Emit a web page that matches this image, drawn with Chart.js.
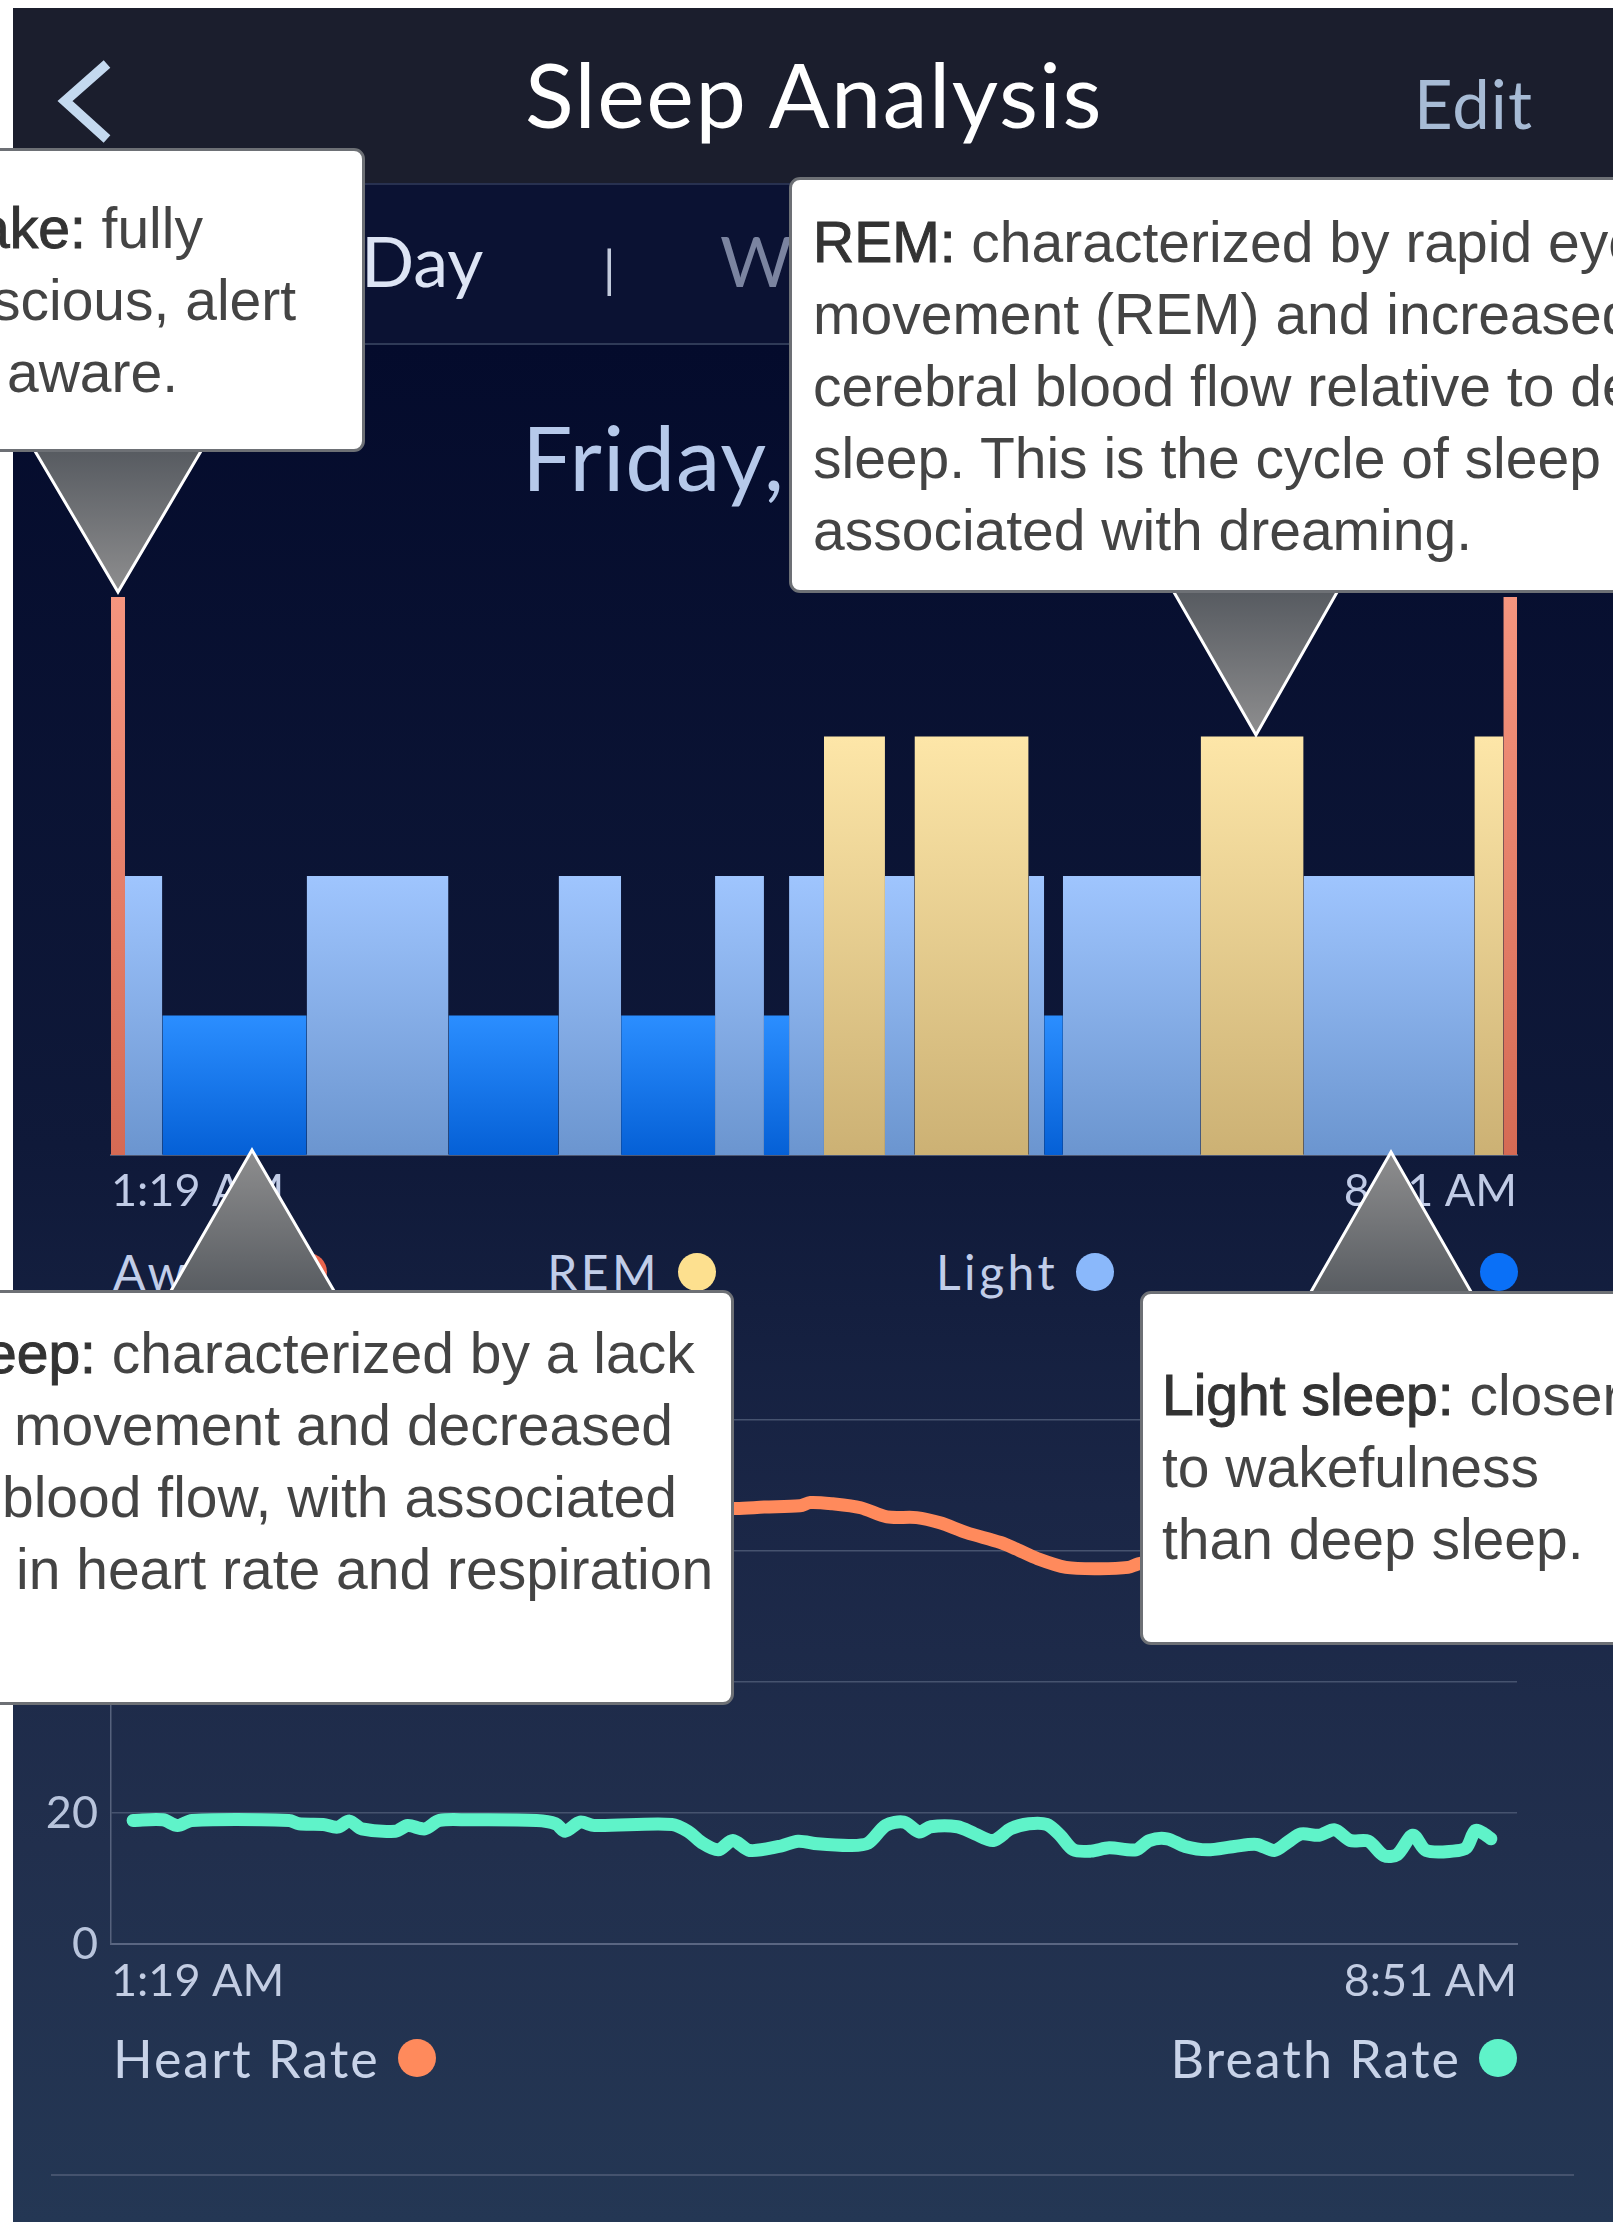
<!DOCTYPE html>
<html>
<head>
<meta charset="utf-8">
<title>Sleep Analysis</title>
<script src="https://cdn.jsdelivr.net/npm/chart.js@4.4.1/dist/chart.umd.min.js"></script>
<style>
html,body{margin:0;padding:0}
body{position:relative;width:1613px;height:2222px;overflow:hidden;background:#ffffff;}
.abs{position:absolute}
.t{position:absolute;white-space:nowrap}
.t b{font-weight:normal;color:#333333;-webkit-text-stroke:1px #333333}
#hdr{left:13px;top:8px;width:1600px;height:175px;background:#1b1e2d}
#seg{left:13px;top:183px;width:1600px;height:160px;background:#0b1233;border-top:2px solid #283150;box-sizing:border-box}
#main{left:13px;top:343px;width:1600px;height:1879px;background:linear-gradient(to bottom,#040b2c 0px,#0f1939 800px,#1a2646 1160px,#212f4d 1500px,#243754 1879px);border-top:2px solid #2f3a57;box-sizing:border-box}
canvas{position:absolute;left:0;z-index:3}
#c1{top:560px}
#c2{top:1380px}
.box{position:absolute;background:#fff;border:3px solid #6d7075;border-radius:11px;box-sizing:border-box;z-index:9}
.legend{position:absolute;display:flex;justify-content:space-between;font-family:Lato;z-index:5;white-space:nowrap}
.li{display:flex;align-items:center;gap:18px}
.dot{display:inline-block;width:38px;height:38px;border-radius:50%}
</style>
</head>
<body>
<div id="hdr" class="abs"></div>
<div id="seg" class="abs"></div>
<div id="main" class="abs"></div>
<svg class="abs" style="left:0;top:0;z-index:5" width="200" height="200"><polyline points="107,64 65,101 107,139" fill="none" stroke="#c4d9ef" stroke-width="10"/></svg>
<canvas id="c1" width="1613" height="667"></canvas>
<canvas id="c2" width="1613" height="638"></canvas>
<svg id="tris" class="abs" style="left:0;top:0;z-index:8" width="1613" height="2222">
  <defs>
    <linearGradient id="gDown" x1="0" y1="0" x2="0" y2="1"><stop offset="0" stop-color="#55595f"/><stop offset="1" stop-color="#8e8e8f"/></linearGradient>
    <linearGradient id="gUp" x1="0" y1="0" x2="0" y2="1"><stop offset="0" stop-color="#8e8e8f"/><stop offset="1" stop-color="#575b60"/></linearGradient>
  </defs>
</svg>
<script>
// ---------- DATA ----------
const stageNames = ['Awake', 'REM', 'Light', 'Deep'];
const stageLevel = { Deep: 1, Light: 2, REM: 3, Awake: 4 };
// sleep stage segments, minutes after 1:19 AM
const segStage = ['Awake','Light','Deep','Light','Deep','Light','Deep','Light','Deep','Light','REM','Light','REM','Light','Deep','Light','REM','Light','REM','Awake'];
const segStart = [0, 4.5, 16.5, 62.9, 108.5, 143.9, 164, 194.2, 209.9, 218, 229.2, 248.8, 258.3, 295, 300, 306, 350.3, 383.4, 438.3, 447.6];
const segEnd   = [4.5, 16.5, 62.9, 108.5, 143.9, 164, 194.2, 209.9, 218, 229.2, 248.8, 258.3, 295, 300, 306, 350.3, 383.4, 438.3, 447.6, 452];
const totalMinutes = 452;
const xTickValues = [0, 452];
const xTickLabels = ['1:19 AM', '8:51 AM'];

// heart rate (bpm) – minutes after 1:19 AM
const hrMin = [7, 20, 35, 50, 65, 80, 95, 110, 125, 140, 155, 170, 185, 201, 210, 221.5, 224.8, 232, 241, 249.5, 259, 266.5, 275, 286, 291, 298, 307, 318, 327, 330, 340, 355, 370, 385, 400, 415, 430, 443];
const hrVal = [64, 63, 62, 61, 60.5, 61, 62, 63, 64, 65, 65.5, 66, 66.5, 66.5, 66.7, 66.9, 67.4, 67.2, 66.6, 65.2, 65.1, 64.3, 62.8, 61.3, 60.3, 58.8, 57.5, 57.3, 57.5, 58, 59, 59.5, 60, 59, 58.5, 59, 60, 60.5];

// breath rate (breaths/min)
const brMin = [7.1, 16.7, 21.4, 26, 57.2, 60.4, 68.2, 72.8, 76.7, 80.6, 91.5, 95.4, 100.9, 105.6, 114.9, 136.8, 143, 146, 150.8, 155.4, 180.4, 185.9, 189.7, 195.2, 199.9, 205.3, 214.7, 220.9, 227.1, 237.6, 243.4, 249.1, 254.9, 259.9, 263.5, 272.1, 277.8, 283.6, 289.3, 295.1, 300.8, 305.1, 309.4, 315.1, 320.9, 329.5, 333.8, 339.5, 345.3, 352.5, 361.1, 368.3, 374, 378.3, 382.6, 388.4, 393.4, 398.4, 404.2, 409.2, 413.5, 418.5, 422.8, 431.4, 435.7, 438.6, 441.5, 443.6];
const brVal = [18.86, 18.96, 18.09, 18.86, 18.86, 18.35, 18.25, 17.84, 18.76, 17.58, 17.23, 18.09, 17.58, 18.86, 18.96, 18.86, 18.35, 17.23, 18.6, 18.09, 18.25, 17.07, 15.55, 14.38, 15.8, 14.28, 14.89, 15.7, 15.3, 15.04, 15.4, 18.1, 18.6, 17.1, 17.9, 17.9, 16.8, 15.8, 17.6, 18.35, 18.25, 16.6, 14.38, 14.18, 14.69, 14.38, 15.8, 16.06, 14.89, 14.38, 14.89, 15.2, 14.28, 15.55, 16.8, 16.6, 17.43, 15.8, 15.7, 13.5, 13.65, 16.6, 14.28, 14.18, 14.69, 17.33, 16.8, 16.06];
const yTickStep = 20;
const yMax = 80;
const vitalsLegend = ['Heart Rate', 'Breath Rate'];

// ---------- STYLES ----------
const stageGrad = { Awake: ['#f5957f', '#d56a54'], REM: ['#fde6a8', '#ccb174'], Light: ['#9fc5fe', '#6b95cf'], Deep: ['#2b8eff', '#0560d6'] };
const stageDot = { Awake: '#e9654d', REM: '#fde08f', Light: '#8ab8fb', Deep: '#0a70f7' };
const vitalColor = { 'Heart Rate': '#ff8a5c', 'Breath Rate': '#5ff3c9' };

// ---------- TEXT HELPER ----------
function txt(s, x, base, size, color, o = {}) {
  const fam = o.fam || 'Lato';
  const asc = fam === 'Lato' ? 0.887 : 0.8465;
  const d = document.createElement('div');
  d.className = 't';
  d.style.fontFamily = fam === 'Lato' ? 'Lato' : '"Liberation Sans"';
  d.style.fontSize = size + 'px';
  d.style.lineHeight = size + 'px';
  d.style.top = (base - asc * size) + 'px';
  if (o.align === 'center') { d.style.left = (x - 1500) + 'px'; d.style.width = '3000px'; d.style.textAlign = 'center'; }
  else if (o.align === 'right') { d.style.right = (1613 - x) + 'px'; }
  else d.style.left = x + 'px';
  d.style.color = color;
  if (o.weight) d.style.fontWeight = o.weight;
  if (o.ls) d.style.letterSpacing = o.ls + 'px';
  d.style.zIndex = o.z || 5;
  d.innerHTML = s;
  document.body.appendChild(d);
  return d;
}

// header texts
txt('Sleep Analysis', 814, 128, 90, '#ffffff', { align: 'center', ls: 1.5 });
txt('Edit', 1414, 129, 67, '#a7bbd5', { ls: 1 });
txt('Day', 361, 287, 70, '#dde4f4');
txt('|', 603, 287, 50, '#c2cadb');
txt('Week', 720, 287, 70, '#7b84a0');
txt('Friday,', 522, 491, 89, '#b6c9ea', { ls: 1 });

// ---------- SLEEP CHART ----------
function stageFill(chart, st) {
  const a = chart.chartArea;
  const c = stageGrad[st];
  if (!a) return c[0];
  const yTop = chart.scales.y.getPixelForValue(stageLevel[st]);
  const g = chart.ctx.createLinearGradient(0, yTop, 0, a.bottom);
  g.addColorStop(0, c[0]);
  g.addColorStop(1, c[1]);
  return g;
}
const axisFont = { family: 'Lato', size: 45 };
const sleepDatasets = segStage.map((st, i) => ({
  label: st,
  data: [{ x: segStart[i], y: stageLevel[st] }, { x: segEnd[i], y: stageLevel[st] }],
  borderWidth: 0,
  borderColor: 'rgba(0,0,0,0)',
  pointRadius: 0,
  tension: 0,
  fill: 'origin',
  backgroundColor: (ctx) => stageFill(ctx.chart, st)
}));

new Chart(document.getElementById('c1'), {
  type: 'line',
  data: { datasets: sleepDatasets },
  options: {
    responsive: false, animation: false, devicePixelRatio: 1, events: [],
    layout: { padding: { left: 111, right: 96, top: 37, bottom: 0 } },
    plugins: { legend: { display: false }, tooltip: { enabled: false } },
    scales: {
      x: {
        type: 'linear', min: 0, max: totalMinutes,
        grid: { display: false, drawTicks: false },
        border: { display: true, color: '#4e5873', width: 2 },
        afterBuildTicks: (s) => { s.ticks = xTickValues.map(v => ({ value: v })); },
        ticks: { align: 'inner', maxRotation: 0, autoSkip: false, padding: 9, color: '#c0cbe6', font: axisFont,
          callback: (v, i) => xTickLabels[i] }
      },
      y: { display: false, min: 0, max: 4 }
    }
  }
});

// sleep legend
(function () {
  const lg = document.createElement('div');
  lg.className = 'legend';
  lg.style.left = '113px'; lg.style.width = '1405px';
  lg.style.top = (1291 - 0.887 * 48) + 'px';
  lg.style.fontSize = '48px'; lg.style.lineHeight = '48px'; lg.style.color = '#c1cde9';
  lg.style.letterSpacing = '3.5px';
  stageNames.forEach(n => {
    const it = document.createElement('span'); it.className = 'li';
    it.innerHTML = '<span>' + n + '</span><i class="dot" style="background:' + stageDot[n] + '"></i>';
    lg.appendChild(it);
  });
  document.body.appendChild(lg);
})();

// ---------- VITALS CHART ----------
new Chart(document.getElementById('c2'), {
  type: 'line',
  data: {
    datasets: [
      { label: vitalsLegend[0], data: hrMin.map((m, i) => ({ x: m, y: hrVal[i] })), borderColor: vitalColor['Heart Rate'],
        borderWidth: 13, pointRadius: 0, tension: 0.3, borderCapStyle: 'round', borderJoinStyle: 'round', fill: false },
      { label: vitalsLegend[1], data: brMin.map((m, i) => ({ x: m, y: brVal[i] })), borderColor: vitalColor['Breath Rate'],
        borderWidth: 13, pointRadius: 0, tension: 0.3, borderCapStyle: 'round', borderJoinStyle: 'round', fill: false }
    ]
  },
  options: {
    responsive: false, animation: false, devicePixelRatio: 1, events: [],
    layout: { padding: { left: 0, right: 96, top: 38.7, bottom: 0 } },
    plugins: { legend: { display: false }, tooltip: { enabled: false } },
    scales: {
      x: {
        type: 'linear', min: 0, max: totalMinutes,
        grid: { display: false, drawTicks: false },
        border: { display: true, color: '#5a6682', width: 2 },
        afterBuildTicks: (s) => { s.ticks = xTickValues.map(v => ({ value: v })); },
        ticks: { align: 'inner', maxRotation: 0, autoSkip: false, padding: 10, color: '#c3cde3', font: axisFont,
          callback: (v, i) => xTickLabels[i] }
      },
      y: {
        min: 0, max: yMax,
        afterFit: (s) => { s.width = 111; },
        grid: { color: '#46536f', lineWidth: 1.5, drawTicks: false },
        border: { display: true, color: '#56627d', width: 1.5 },
        ticks: { stepSize: yTickStep, padding: 13, color: '#b8c4dc', font: axisFont }
      }
    }
  }
});

// vitals legend
(function () {
  const lg = document.createElement('div');
  lg.className = 'legend';
  lg.style.left = '113px'; lg.style.width = '1404px';
  lg.style.top = (2078 - 0.887 * 52) + 'px';
  lg.style.fontSize = '52px'; lg.style.lineHeight = '52px'; lg.style.color = '#c8d3e8';
  lg.style.letterSpacing = '2px';
  vitalsLegend.forEach(n => {
    const it = document.createElement('span'); it.className = 'li';
    it.innerHTML = '<span>' + n + '</span><i class="dot" style="background:' + vitalColor[n] + '"></i>';
    lg.appendChild(it);
  });
  document.body.appendChild(lg);
})();

// bottom divider
(function () {
  const d = document.createElement('div');
  d.className = 'abs';
  d.style.cssText = 'left:51px;top:2174px;width:1523px;height:2px;background:#45536e;z-index:4';
  document.body.appendChild(d);
})();

// ---------- CALLOUTS ----------
const callouts = [
  { box: [-20, 148, 385, 304], up: false, tri: [[32, 446], [204, 446], [118, 592]],
    lines: [[-22, 248, '<b>ake:</b> fully'], [-8, 320, 'scious, alert'], [7, 392, 'aware.']] },
  { box: [789, 177, 900, 416], up: false, tri: [[1171, 587], [1340, 587], [1256, 735]],
    lines: [[813, 262, '<b>REM:</b> characterized by rapid eye'], [813, 334, 'movement (REM) and increased'],
            [813, 406, 'cerebral blood flow relative to deep'], [813, 478, 'sleep. This is the cycle of sleep'],
            [813, 550, 'associated with dreaming.']] },
  { box: [-20, 1290, 754, 415], up: true, tri: [[168, 1296], [337, 1296], [252, 1150]],
    lines: [[-15, 1373, '<b>eep:</b> characterized by a lack'], [14, 1445, 'movement and decreased'],
            [2, 1517, 'blood flow, with associated'], [16, 1589, 'in heart rate and respiration']] },
  { box: [1140, 1291, 600, 354], up: true, tri: [[1308, 1297], [1474, 1297], [1391, 1152]],
    lines: [[1162, 1415, '<b>Light sleep:</b> closer'], [1162, 1487, 'to wakefulness'], [1162, 1559, 'than deep sleep.']] }
];
const svg = document.getElementById('tris');
callouts.forEach(c => {
  const p = document.createElementNS('http://www.w3.org/2000/svg', 'polygon');
  p.setAttribute('points', c.tri.map(q => q.join(',')).join(' '));
  p.setAttribute('fill', c.up ? 'url(#gUp)' : 'url(#gDown)');
  p.setAttribute('stroke', '#ffffff');
  p.setAttribute('stroke-width', '3');
  p.setAttribute('stroke-linejoin', 'miter');
  svg.appendChild(p);
  const b = document.createElement('div');
  b.className = 'box';
  b.style.left = c.box[0] + 'px'; b.style.top = c.box[1] + 'px';
  b.style.width = c.box[2] + 'px'; b.style.height = c.box[3] + 'px';
  document.body.appendChild(b);
  c.lines.forEach(l => {
    txt(l[2], l[0], l[1], 57, '#444444', { fam: 'Liberation Sans', z: 10 });
  });
});
</script>
</body>
</html>
